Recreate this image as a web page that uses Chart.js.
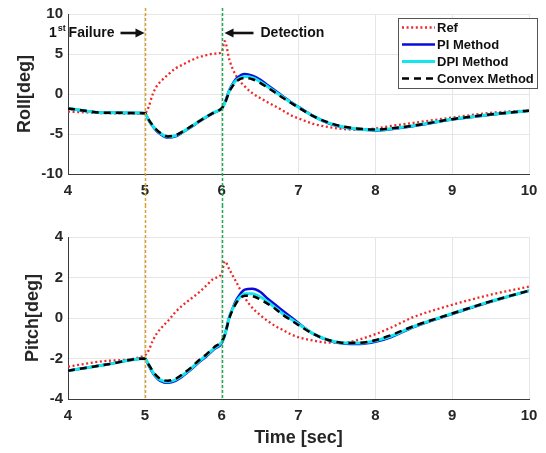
<!DOCTYPE html>
<html>
<head>
<meta charset="utf-8">
<script src="https://cdn.jsdelivr.net/npm/chart.js@4.4.1/dist/chart.umd.min.js"></script>
<style>
  html, body { margin: 0; padding: 0; background: #fff; }
  #wrap { position: relative; width: 546px; height: 453px; }
  #rollCanvas { position: absolute; left: 0; top: 0; }
  #pitchCanvas { position: absolute; left: 0; top: 205px; }
</style>
</head>
<body>
<div id="wrap">
  <canvas id="rollCanvas" width="546" height="205"></canvas>
  <canvas id="pitchCanvas" width="546" height="248"></canvas>
</div>
<script>
  // Time samples (sec)
  const time = [4, 4.5, 5, 5.05, 5.1, 5.15, 5.2, 5.3, 5.4, 5.5, 5.6, 5.7, 5.8, 5.9, 6, 6.04, 6.1, 6.15, 6.2, 6.3,
    6.4, 6.5, 6.6, 6.7, 6.8, 6.9, 7, 7.2, 7.4, 7.6, 7.8, 8, 8.2, 8.5, 9, 9.5, 10];

  // Roll [deg]
  const rollRef = [-2.2, -2.4, -2.45, -1.6, -0.1, 0.9, 1.5, 2.4, 3.2, 3.7, 4.2, 4.6, 4.85, 5.05, 5.2, 6.6, 4.3, 3.0, 2.1, 0.95,
    0.1, -0.5, -1.05, -1.55, -2.1, -2.65, -3.05, -3.75, -4.15, -4.4, -4.45, -4.3, -4.0, -3.6, -2.95, -2.35, -2.05];
  const rollPI = [-1.8, -2.35, -2.4, -3.3, -4.0, -4.6, -5.0, -5.45, -5.3, -4.75, -4.15, -3.5, -2.9, -2.35, -1.8, -1.1, 0.5, 1.4, 2.0, 2.5,
    2.3, 1.8, 1.1, 0.4, -0.3, -1.0, -1.6, -2.8, -3.7, -4.2, -4.45, -4.55, -4.4, -4.0, -3.2, -2.6, -2.1];
  const rollDPI = [-1.8, -2.35, -2.4, -3.25, -3.95, -4.5, -4.9, -5.35, -5.2, -4.7, -4.1, -3.45, -2.85, -2.3, -1.8, -1.15, 0.4, 1.25, 1.8, 2.2,
    2.05, 1.55, 0.9, 0.25, -0.4, -1.05, -1.65, -2.8, -3.65, -4.15, -4.4, -4.5, -4.35, -3.95, -3.15, -2.55, -2.1];
  const rollCvx = [-1.8, -2.35, -2.4, -3.2, -3.9, -4.45, -4.85, -5.3, -5.15, -4.65, -4.05, -3.45, -2.85, -2.3, -1.8, -1.2, 0.3, 1.1, 1.65, 2.0,
    1.85, 1.4, 0.8, 0.15, -0.5, -1.1, -1.7, -2.8, -3.6, -4.1, -4.35, -4.45, -4.3, -3.95, -3.15, -2.55, -2.1];

  // Pitch [deg]
  const pitchRef = [-2.4, -2.12, -1.85, -1.6, -1.15, -0.8, -0.55, -0.15, 0.3, 0.65, 0.95, 1.25, 1.6, 1.95, 2.2, 2.8, 2.4, 2.05, 1.7, 1.0,
    0.5, 0.15, -0.15, -0.4, -0.6, -0.8, -0.95, -1.12, -1.22, -1.22, -1.05, -0.8, -0.48, 0.05, 0.65, 1.15, 1.55];
  const pitchPI = [-2.6, -2.3, -2.0, -2.35, -2.7, -2.95, -3.1, -3.2, -3.1, -2.85, -2.55, -2.2, -1.9, -1.55, -1.25, -0.85, 0.05, 0.55, 0.95, 1.4,
    1.45, 1.3, 0.95, 0.65, 0.35, 0.05, -0.25, -0.8, -1.12, -1.27, -1.28, -1.18, -0.95, -0.45, 0.2, 0.8, 1.35];
  const pitchDPI = [-2.6, -2.3, -2.0, -2.3, -2.65, -2.9, -3.05, -3.15, -3.05, -2.8, -2.5, -2.15, -1.85, -1.5, -1.2, -0.85, 0.05, 0.5, 0.85, 1.2,
    1.2, 1.05, 0.8, 0.5, 0.2, -0.05, -0.3, -0.8, -1.1, -1.24, -1.24, -1.12, -0.9, -0.42, 0.22, 0.82, 1.35];
  const pitchCvx = [-2.6, -2.3, -2.0, -2.3, -2.6, -2.85, -3.0, -3.1, -3.0, -2.75, -2.45, -2.1, -1.8, -1.45, -1.15, -0.85, 0.0, 0.45, 0.8, 1.1,
    1.08, 0.92, 0.7, 0.45, 0.15, -0.1, -0.35, -0.8, -1.1, -1.23, -1.22, -1.1, -0.85, -0.4, 0.22, 0.82, 1.35];

  const seriesLabels = ['Ref', 'PI Method', 'DPI Method', 'Convex Method'];
  const failureTime = 5;
  const detectionTime = 6;

  const FONT = "'Liberation Sans', Arial, sans-serif";
  const TXT = '#262626';

  const styles = [
    { color: '#F02828', width: 2.3, dash: [2, 2.6], order: 4 },
    { color: '#0A0ADC', width: 2.5, dash: [], order: 3 },
    { color: '#14E6EE', width: 3, dash: [], order: 2 },
    { color: '#000000', width: 2.5, dash: [7, 5], order: 1 }
  ];

  function makeDatasets(series) {
    return series.map((vals, i) => ({
      label: seriesLabels[i],
      data: time.map((t, k) => ({ x: t, y: vals[k] })),
      borderColor: styles[i].color,
      backgroundColor: styles[i].color,
      borderWidth: styles[i].width,
      borderDash: styles[i].dash,
      order: styles[i].order,
      pointRadius: 0,
      fill: false,
      cubicInterpolationMode: 'monotone'
    }));
  }

  // vertical event lines, plus the annotations / legend on the top plot
  const eventPlugin = {
    id: 'eventLines',
    afterDatasetsDraw(chart, args, opts) {
      const ctx = chart.ctx;
      const xs = chart.scales.x;
      const x5 = Math.round(xs.getPixelForValue(failureTime)) + 0.5;
      const x6 = Math.round(xs.getPixelForValue(detectionTime)) + 0.5;
      const y1 = opts.toAxis ? chart.chartArea.bottom : chart.height;
      ctx.save();
      ctx.lineWidth = 1.5;
      ctx.setLineDash([3, 2]);
      ctx.strokeStyle = '#D9A12E';
      ctx.beginPath(); ctx.moveTo(x5, opts.top); ctx.lineTo(x5, y1); ctx.stroke();
      ctx.strokeStyle = '#22A854';
      ctx.beginPath(); ctx.moveTo(x6, opts.top); ctx.lineTo(x6, y1); ctx.stroke();
      ctx.restore();

      if (!opts.annotate) return;
      const ay = 33;
      ctx.save();
      ctx.fillStyle = '#111';
      ctx.strokeStyle = '#111';
      ctx.lineWidth = 2.6;
      ctx.setLineDash([]);
      // failure arrow (pointing right)
      ctx.beginPath(); ctx.moveTo(x5 - 25, ay); ctx.lineTo(x5 - 8, ay); ctx.stroke();
      ctx.beginPath(); ctx.moveTo(x5 - 1, ay); ctx.lineTo(x5 - 10, ay - 4.5); ctx.lineTo(x5 - 10, ay + 4.5); ctx.closePath(); ctx.fill();
      // detection arrow (pointing left)
      ctx.beginPath(); ctx.moveTo(x6 + 31, ay); ctx.lineTo(x6 + 9, ay); ctx.stroke();
      ctx.beginPath(); ctx.moveTo(x6 + 2, ay); ctx.lineTo(x6 + 11, ay - 4.5); ctx.lineTo(x6 + 11, ay + 4.5); ctx.closePath(); ctx.fill();

      ctx.textBaseline = 'middle';
      ctx.font = 'bold 14px ' + FONT;
      ctx.textAlign = 'right';
      const failEnd = x5 - 31;
      ctx.fillText('Failure', failEnd, ay);
      const wFail = ctx.measureText('Failure ').width;
      ctx.font = 'bold 9px ' + FONT;
      const wSt = ctx.measureText('st').width;
      ctx.fillText('st', failEnd - wFail + 1, ay - 4);
      ctx.font = 'bold 14px ' + FONT;
      ctx.fillText('1', failEnd - wFail + 1 - wSt - 1, ay);
      ctx.textAlign = 'left';
      ctx.fillText('Detection', x6 + 38, ay);

      // legend
      const lx = 398, ly = 18, lw = 139, lh = 70;
      ctx.fillStyle = '#fff';
      ctx.fillRect(lx, ly, lw, lh);
      ctx.lineWidth = 1;
      ctx.strokeStyle = '#555';
      ctx.strokeRect(lx + 0.5, ly + 0.5, lw, lh);
      ctx.font = 'bold 13px ' + FONT;
      chart.data.datasets.forEach((ds, i) => {
        const y = ly + 9.5 + i * 17;
        ctx.strokeStyle = ds.borderColor;
        ctx.lineWidth = ds.borderWidth;
        ctx.setLineDash(ds.borderDash);
        ctx.beginPath(); ctx.moveTo(lx + 4, y); ctx.lineTo(lx + 37, y); ctx.stroke();
        ctx.setLineDash([]);
        ctx.fillStyle = '#111';
        ctx.fillText(ds.label, lx + 39, y + 0.5);
      });
      ctx.restore();
    }
  };

  function axisOptions(cfg) {
    return {
      x: {
        type: 'linear', min: 4, max: 10,
        afterFit: s => { s.height = cfg.xHeight; },
        ticks: { stepSize: 1, padding: 8, color: TXT, font: { family: FONT, size: 15, weight: 'bold' } },
        grid: { color: '#E6E6E6', drawTicks: false },
        border: { color: '#3C3C3C', width: 1 },
        title: cfg.xTitle ? {
          display: true, text: cfg.xTitle, color: TXT,
          font: { family: FONT, size: 18, weight: 'bold' }, padding: { top: 0, bottom: 4 }
        } : { display: false }
      },
      y: {
        min: cfg.yMin, max: cfg.yMax,
        afterFit: s => { s.width = 68 - cfg.padLeft; },
        ticks: { stepSize: cfg.yStep, padding: 5, color: TXT, font: { family: FONT, size: 15, weight: 'bold' } },
        grid: { color: '#E6E6E6', drawTicks: false },
        border: { color: '#3C3C3C', width: 1 },
        title: {
          display: true, text: cfg.yTitle, color: TXT,
          font: { family: FONT, size: 18, weight: 'bold' }, padding: { top: 0, bottom: 0 }
        }
      }
    };
  }

  new Chart(document.getElementById('rollCanvas'), {
    type: 'line',
    data: { datasets: makeDatasets([rollRef, rollPI, rollDPI, rollCvx]) },
    options: {
      responsive: false, animation: false, devicePixelRatio: 1,
      layout: { padding: { left: 14, right: 17, top: 13, bottom: 0 } },
      scales: axisOptions({ yMin: -10, yMax: 10, yStep: 5, yTitle: 'Roll[deg]', padLeft: 14, xHeight: 31 }),
      plugins: {
        legend: { display: false }, tooltip: { enabled: false },
        eventLines: { top: 8, toAxis: false, annotate: true }
      }
    },
    plugins: [eventPlugin]
  });

  new Chart(document.getElementById('pitchCanvas'), {
    type: 'line',
    data: { datasets: makeDatasets([pitchRef, pitchPI, pitchDPI, pitchCvx]) },
    options: {
      responsive: false, animation: false, devicePixelRatio: 1,
      layout: { padding: { left: 22, right: 17, top: 32, bottom: 0 } },
      scales: axisOptions({ yMin: -4, yMax: 4, yStep: 2, yTitle: 'Pitch[deg]', padLeft: 22, xHeight: 54, xTitle: 'Time [sec]' }),
      plugins: {
        legend: { display: false }, tooltip: { enabled: false },
        eventLines: { top: 0, toAxis: true, annotate: false }
      }
    },
    plugins: [eventPlugin]
  });
</script>
</body>
</html>
